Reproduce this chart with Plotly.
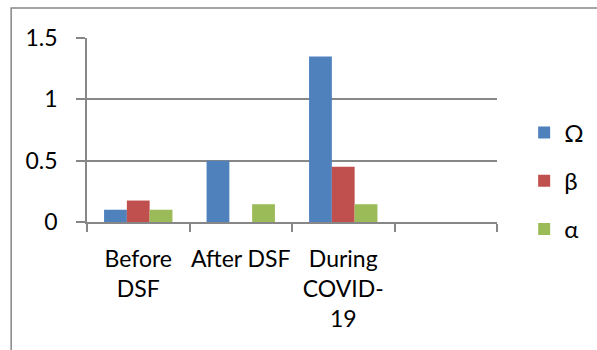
import plotly.graph_objects as go

categories = ["Before<br>DSF", "After DSF", "During<br>COVID-<br>19", " "]
omega = [0.10, 0.50, 1.35, None]
beta = [0.175, None, 0.45, None]
alpha = [0.10, 0.145, 0.145, None]
series_names = ["Ω", "β", "α"]
colors = ["#4F81BD", "#C0504D", "#9BBB59"]

FONT = "Lato"
fig = go.Figure()
for i, (name, vals, c) in enumerate(zip(series_names, [omega, beta, alpha], colors)):
    fig.add_trace(go.Bar(x=categories, y=vals, name=name, marker_color=c,
                         marker_line_width=0, legendgroup=f"g{i}"))

grid = "#878787"
fig.update_layout(
    width=597, height=350,
    margin=dict(l=87, r=100, t=38, b=128, autoexpand=False),
    paper_bgcolor="white", plot_bgcolor="white",
    barmode="group", bargap=0.333, bargroupgap=0,
    font=dict(family=FONT, size=23, color="black"),
    showlegend=True,
    legend=dict(xref="container", yref="container", x=0.878, y=0.483,
                xanchor="left", yanchor="middle",
                font=dict(size=24), tracegroupgap=14,
                bgcolor="rgba(0,0,0,0)"),
    xaxis=dict(type="category", range=[-0.5, 3.5], showgrid=False,
               showline=True, linecolor=grid, linewidth=1.5,
               ticks="outside", tickson="boundaries", ticklen=8,
               tickcolor=grid, tickwidth=1.5, fixedrange=True,
               tickangle=0, automargin=False, ticklabelstandoff=16),
    yaxis=dict(range=[0, 1.5], dtick=0.5, tick0=0, showgrid=True,
               gridcolor=grid, gridwidth=1.5, showline=True,
               linecolor=grid, linewidth=1.5, zeroline=False,
               ticks="outside", ticklen=9, tickcolor=grid, tickwidth=1.5,
               ticklabelstandoff=14, fixedrange=True, automargin=False),
    shapes=[dict(type="rect", xref="paper", yref="paper",
                 x0=-0.185, x1=1.3, y0=-0.8, y1=1.163,
                 line=dict(color=grid, width=1.5), fillcolor="rgba(0,0,0,0)",
                 layer="above")],
)
fig.write_html("out.html", config={"displayModeBar": False},
               post_script="document.body.style.margin='0';")
